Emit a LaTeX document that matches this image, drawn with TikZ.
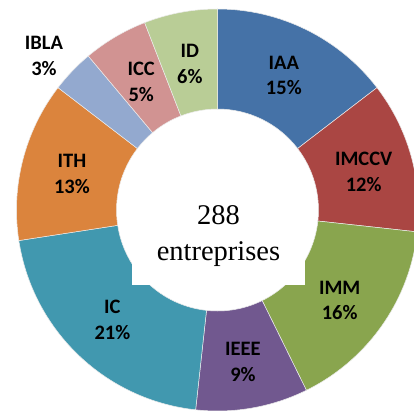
\documentclass[tikz,border=0pt]{standalone}
\usepackage{fontspec}
\newfontfamily\labelfont{Carlito}
\newfontfamily\totalfont{Liberation Serif}
\definecolor{iaa}{HTML}{4572A7}
\definecolor{imccv}{HTML}{AA4643}
\definecolor{imm}{HTML}{89A54E}
\definecolor{ieee}{HTML}{71588F}
\definecolor{ic}{HTML}{4198AF}
\definecolor{ith}{HTML}{DB843D}
\definecolor{ibla}{HTML}{93A9CF}
\definecolor{icc}{HTML}{D19392}
\definecolor{id}{HTML}{B9CD96}
\tikzset{
  slicelabel/.style={font=\labelfont\bfseries\fontsize{20.5}{25.7}\selectfont, align=center, inner sep=0pt},
  totallabel/.style={font=\totalfont\fontsize{28.5}{36}\selectfont, align=center, inner sep=0pt}
}
\begin{document}
\begin{tikzpicture}[x=1pt,y=1pt]
\clip (-217.5,-200) rectangle (196.5,210);
\fill[white] (-217.5,-200) rectangle (196.5,210);

% ring of slices, clockwise from the top
\foreach \a/\b/\c in {90/37.5/iaa, 37.5/-6.25/imccv, -6.25/-63.75/imm, -63.75/-96.25/ieee, -96.25/-171.25/ic, 188.75/142.5/ith, 142.5/130/ibla, 130/111.25/icc, 111.25/90/id}
  \filldraw[fill=\c, draw=white!85!gray, line width=0.5pt] (\a:101) arc(\a:\b:101) -- (\b:201) arc(\b:\a:201) -- cycle;

% labels
\foreach \m/\r/\n/\p in {63.75/150/IAA/15, 14.5/151/IMCCV/12, -36.5/152/IMM/16, -80.5/154/IEEE/9, -133.75/152/IC/21, 166/150/ITH/13, 138.4/232/IBLA/3, 120.8/149/ICC/5, 100.7/149/ID/6}
  \node[slicelabel] (\n) at (\m:\r) {\n\\\p\%};

% box of the total
\fill[white] (-85.5,-75) rectangle (87.5,29);
\node[totallabel] (total) at (1,-25.6) {288\\entreprises};
\end{tikzpicture}
\end{document}
